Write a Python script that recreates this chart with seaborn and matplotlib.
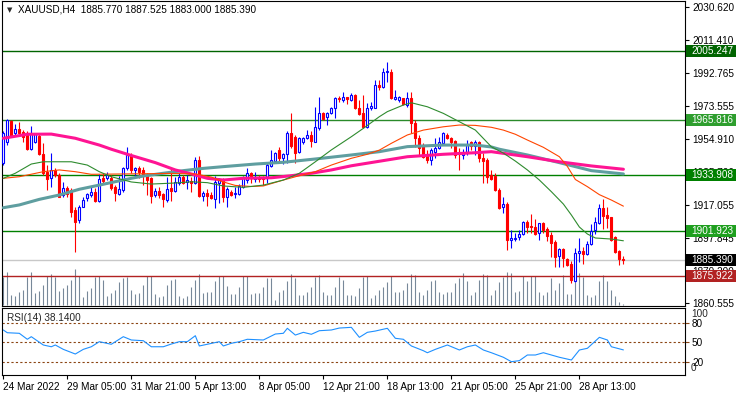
import matplotlib
matplotlib.use("Agg")
import matplotlib.pyplot as plt
import matplotlib.transforms as mtransforms
from matplotlib.patches import Rectangle
import numpy as np
import pandas as pd
import seaborn as sns

sns.set_style("white")
plt.rcParams['font.family'] = ['Liberation Sans', 'DejaVu Sans']

# ---------------- data ----------------
title_text = "XAUUSD,H4  1885.770 1887.525 1883.000 1885.390"

opens = [1941.0, 1953.2, 1965.3, 1958.4, 1960.5, 1958.8, 1958.4, 1948.9, 1953.2, 1956.5,
         1946.2, 1936.0, 1932.2, 1937.0, 1934.1, 1922.6, 1926.5, 1925.5, 1914.0, 1908.2,
         1915.9, 1920.7, 1922.6, 1924.5, 1919.3, 1932.2, 1932.2, 1932.2, 1927.0, 1923.2,
         1925.5, 1937.9, 1945.6, 1937.0, 1937.9, 1937.0, 1934.1, 1932.2, 1922.6, 1925.1,
         1923.2, 1919.7, 1926.5, 1925.1, 1929.7, 1932.8, 1930.2, 1930.8, 1929.7, 1942.7,
         1922.0, 1923.9, 1922.6, 1920.1, 1929.7, 1931.2, 1921.3, 1924.5, 1923.0, 1923.2,
         1927.4, 1931.2, 1935.1, 1931.8, 1933.1, 1932.5, 1932.5, 1939.4, 1942.1, 1948.5,
         1944.0, 1946.0, 1958.1, 1956.1, 1947.1, 1952.9, 1955.2, 1957.1, 1953.2, 1961.3,
         1969.5, 1967.6, 1969.5, 1972.4, 1978.5, 1977.2, 1978.7, 1977.2, 1980.1, 1972.8,
         1969.5, 1961.8, 1972.4, 1972.8, 1985.8, 1984.8, 1993.1, 1993.4, 1977.8, 1977.2,
         1978.2, 1974.3, 1978.2, 1963.8, 1955.2, 1951.3, 1945.6, 1942.7, 1947.5, 1949.4,
         1952.3, 1957.1, 1955.2, 1953.6, 1947.1, 1945.6, 1947.1, 1952.9, 1950.9, 1953.2,
         1943.7, 1942.7, 1934.1, 1933.7, 1925.5, 1915.5, 1917.4, 1896.7, 1897.2, 1898.3,
         1900.2, 1907.3, 1904.8, 1904.4, 1900.9, 1906.3, 1902.9, 1899.6, 1895.8, 1887.6,
         1891.4, 1885.6, 1882.9, 1873.4, 1889.5, 1890.6, 1888.7, 1894.4, 1902.5, 1906.7,
         1914.9, 1911.1, 1909.8, 1898.6, 1890.4, 1885.77]
highs = [1959.4, 1966.0, 1965.7, 1963.4, 1964.7, 1960.0, 1959.5, 1962.3, 1958.4, 1958.4,
         1952.3, 1939.8, 1946.6, 1937.9, 1935.1, 1930.2, 1927.8, 1926.5, 1915.9, 1916.9,
         1921.3, 1923.9, 1927.8, 1926.5, 1934.7, 1935.1, 1936.0, 1934.1, 1928.3, 1933.5,
         1938.5, 1950.0, 1946.6, 1938.9, 1939.3, 1938.9, 1935.1, 1933.1, 1926.5, 1927.0,
         1923.6, 1933.1, 1937.9, 1933.1, 1935.1, 1934.1, 1934.1, 1933.1, 1944.6, 1945.0,
         1925.1, 1925.9, 1924.5, 1933.5, 1932.2, 1932.2, 1927.4, 1925.5, 1927.4, 1928.9,
         1933.5, 1937.9, 1936.0, 1936.0, 1934.1, 1933.7, 1941.7, 1948.5, 1947.5, 1950.4,
         1946.6, 1959.4, 1969.5, 1957.1, 1956.1, 1956.1, 1960.0, 1959.4, 1973.3, 1979.1,
         1970.5, 1970.5, 1973.3, 1979.1, 1979.7, 1981.6, 1979.1, 1981.0, 1980.5, 1977.2,
         1980.1, 1975.3, 1976.2, 1988.7, 1988.7, 1995.4, 1998.8, 1995.0, 1982.9, 1979.7,
         1978.5, 1981.6, 1981.9, 1965.7, 1957.1, 1952.3, 1948.5, 1949.4, 1955.2, 1956.1,
         1958.9, 1958.0, 1956.1, 1954.2, 1949.4, 1949.0, 1954.2, 1953.6, 1954.2, 1953.6,
         1946.6, 1943.7, 1937.0, 1935.1, 1926.5, 1921.3, 1918.7, 1902.5, 1900.9, 1902.5,
         1907.8, 1908.2, 1911.7, 1908.6, 1906.7, 1907.3, 1904.4, 1901.5, 1896.7, 1892.0,
         1892.0, 1886.2, 1884.9, 1892.0, 1897.7, 1892.6, 1896.3, 1905.9, 1909.8, 1917.4,
         1920.1, 1915.9, 1910.1, 1899.0, 1891.0, 1887.525]
lows = [1939.8, 1951.3, 1955.9, 1957.1, 1958.2, 1953.2, 1948.2, 1948.3, 1952.3, 1945.8,
        1934.0, 1925.5, 1927.0, 1933.1, 1921.3, 1921.6, 1921.3, 1909.8, 1890.0, 1906.3,
        1915.5, 1919.3, 1921.6, 1918.8, 1918.8, 1929.7, 1931.2, 1925.5, 1919.3, 1922.6,
        1924.5, 1937.0, 1935.1, 1932.2, 1932.2, 1928.3, 1922.6, 1917.8, 1921.6, 1920.7,
        1915.5, 1918.8, 1919.3, 1924.5, 1928.3, 1928.9, 1925.9, 1924.5, 1928.9, 1921.3,
        1919.3, 1916.3, 1920.1, 1914.9, 1918.2, 1918.8, 1915.5, 1922.0, 1920.7, 1922.6,
        1926.5, 1929.7, 1929.7, 1930.2, 1930.1, 1928.3, 1929.3, 1938.9, 1940.8, 1941.7,
        1940.2, 1940.8, 1949.4, 1940.8, 1946.6, 1951.7, 1954.8, 1950.4, 1952.9, 1960.0,
        1965.7, 1962.8, 1969.0, 1966.7, 1976.2, 1976.2, 1974.7, 1976.6, 1972.0, 1968.6,
        1961.3, 1961.3, 1971.4, 1972.4, 1982.9, 1983.9, 1987.7, 1977.8, 1977.2, 1975.9,
        1974.3, 1973.3, 1958.0, 1950.4, 1945.6, 1943.7, 1940.8, 1939.8, 1943.7, 1949.0,
        1951.3, 1954.8, 1949.4, 1943.7, 1937.0, 1943.3, 1945.6, 1948.5, 1945.6, 1941.7,
        1929.3, 1929.3, 1931.2, 1924.9, 1914.6, 1912.1, 1891.0, 1892.0, 1896.3, 1896.7,
        1899.6, 1900.9, 1900.9, 1899.6, 1896.7, 1900.9, 1896.3, 1887.2, 1881.4, 1881.1,
        1881.4, 1881.8, 1871.9, 1872.8, 1884.3, 1882.9, 1888.1, 1893.9, 1900.2, 1905.9,
        1902.9, 1903.5, 1896.3, 1889.1, 1882.4, 1883.0]
closes = [1958.2, 1965.7, 1956.5, 1960.5, 1958.4, 1956.1, 1948.8, 1957.6, 1957.6, 1946.2,
          1935.1, 1931.6, 1937.0, 1934.1, 1921.6, 1926.5, 1923.2, 1913.0, 1907.3, 1915.9,
          1919.7, 1923.2, 1924.5, 1919.3, 1931.6, 1930.8, 1934.1, 1926.5, 1923.6, 1925.9,
          1937.9, 1945.6, 1937.0, 1937.9, 1936.0, 1934.1, 1931.2, 1922.0, 1925.1, 1922.6,
          1920.1, 1926.0, 1925.1, 1930.2, 1933.1, 1929.7, 1931.2, 1929.7, 1942.7, 1922.0,
          1923.9, 1922.0, 1920.7, 1930.2, 1931.2, 1921.6, 1925.9, 1922.6, 1923.6, 1927.8,
          1932.2, 1935.1, 1932.2, 1932.5, 1931.8, 1931.8, 1939.8, 1942.7, 1946.6, 1944.0,
          1946.0, 1958.1, 1950.9, 1946.6, 1955.2, 1955.2, 1957.1, 1953.6, 1961.8, 1969.5,
          1966.3, 1969.5, 1972.4, 1978.2, 1977.6, 1979.1, 1977.8, 1980.1, 1972.4, 1969.0,
          1961.8, 1972.4, 1973.9, 1985.8, 1984.8, 1993.4, 1993.8, 1978.2, 1979.1, 1979.1,
          1974.7, 1978.2, 1963.8, 1955.2, 1949.4, 1944.6, 1942.7, 1948.5, 1949.4, 1952.9,
          1958.0, 1955.2, 1952.9, 1945.6, 1946.3, 1947.5, 1951.7, 1950.9, 1953.2, 1943.7,
          1942.1, 1933.1, 1931.8, 1925.5, 1915.0, 1917.4, 1896.7, 1897.7, 1898.1, 1900.2,
          1907.3, 1904.4, 1904.0, 1900.2, 1906.3, 1902.5, 1899.0, 1895.2, 1887.2, 1891.4,
          1886.2, 1882.4, 1873.8, 1889.5, 1890.6, 1888.7, 1894.4, 1902.1, 1907.3, 1914.9,
          1910.5, 1909.2, 1896.7, 1890.0, 1885.6, 1885.39]
volumes = [28.3, 33.3, 10, 9, 13.3, 15, 28.3, 33.3, 12.3, 14.3,
           20, 29.3, 30.7, 28.3, 14, 16.7, 20, 25, 36, 29.3,
           8.3, 14.3, 16.7, 28.3, 29, 25, 9, 12.3, 15, 23.3,
           26.7, 27.7, 15, 11, 12.3, 20, 29, 29, 11, 8.3,
           9, 20, 25, 25.7, 9, 6.7, 9, 18.3, 25, 31,
           12.3, 13.3, 13.3, 24.3, 29.3, 29, 19, 11, 11, 18.3,
           29, 29, 11, 11.7, 11.7, 18.3, 27.3, 27.3, 5, 12.7,
           15, 24, 31, 27.3, 10, 10, 12.7, 18.3, 28.3, 30,
           12.7, 10, 10, 18.3, 28.3, 25, 10, 10, 9.3, 16.7,
           28.3, 29, 6.7, 10, 15, 18.3, 23.3, 29, 12.7, 12.7,
           15, 21.7, 30.7, 30, 12.7, 10, 15, 24, 25, 13.3,
           10.7, 12.7, 13.3, 21.7, 27.3, 31.7, 24, 10, 12.7, 25,
           30.7, 30, 10, 15, 23.3, 28.3, 33.3, 31.7, 13.3, 14.3,
           29, 24.3, 29, 29, 13.3, 10, 13.3, 26.7, 15, 21.7,
           30, 11, 11, 23.3, 32.3, 27.7, 10, 8.3, 10, 24.3,
           30, 24.3, 15, 9, 3.3, 1]

# moving averages (bar index, value)
ma_green_bar = [0, 3, 7, 10, 17, 21, 24, 27, 32, 37, 43, 47, 51, 55, 60, 65, 70, 74, 78, 82,
                87, 90, 94, 96, 100, 102, 106, 110, 114, 118, 122, 125, 128, 131, 134, 137,
                140, 142, 144, 146, 148, 152, 155]
ma_green_val = [1932.2, 1935.1, 1940.4, 1941.7, 1941.7, 1939.8, 1936.0, 1933.1, 1930.1, 1928.9,
                1929.5, 1930.2, 1929.7, 1927.8, 1927.0, 1928.3, 1931.2, 1935.1, 1941.7, 1948.5,
                1956.1, 1960.9, 1967.6, 1970.5, 1974.3, 1975.6, 1973.3, 1969.5, 1964.7, 1959.9,
                1950.3, 1946.7, 1942.1, 1937.0, 1931.2, 1924.5, 1917.4, 1911.1, 1904.2, 1900.2,
                1897.9, 1897.3, 1896.3]
ma_orange_bar = [0, 4, 10, 14, 18, 22, 30, 42, 48, 52, 55, 58, 62, 65, 70, 74, 78, 82, 87, 91,
                 94, 97, 101, 105, 110, 114, 118, 122, 125, 128, 131, 135, 139, 141, 143, 146,
                 149, 152, 155]
ma_orange_val = [1932.2, 1933.1, 1936.0, 1937.0, 1936.0, 1934.5, 1934.7, 1935.0, 1934.7, 1932.9,
                 1930.1, 1928.1, 1927.5, 1927.8, 1931.2, 1933.7, 1936.0, 1939.8, 1943.7, 1946.0,
                 1948.4, 1952.3, 1957.1, 1959.9, 1961.8, 1962.8, 1962.6, 1961.5, 1959.9, 1957.5,
                 1954.2, 1950.0, 1944.6, 1939.0, 1931.5, 1927.4, 1922.8, 1919.7, 1916.2]
ma_pink_bar = [0, 6, 12, 18, 24, 27, 32, 38, 43, 47, 51, 55, 60, 67, 72, 77, 82, 87, 94, 101,
               110, 118, 122, 131, 139, 147, 155]
ma_pink_val = [1955.2, 1957.5, 1957.6, 1955.2, 1951.3, 1948.9, 1945.3, 1941.2, 1937.0, 1934.7,
               1932.2, 1931.2, 1932.2, 1932.5, 1933.7, 1935.1, 1937.0, 1939.4, 1942.0, 1944.6,
               1946.0, 1946.9, 1947.5, 1944.6, 1941.7, 1939.3, 1937.4]
ma_teal_bar = [0, 4, 9, 14, 19, 24, 32, 35, 40, 45, 50, 55, 63, 70, 78, 87, 94, 101, 110, 118,
               122, 124, 131, 139, 147, 155]
ma_teal_val = [1915.3, 1916.9, 1920.1, 1922.6, 1925.9, 1928.3, 1932.2, 1933.5, 1935.1, 1936.6,
               1937.9, 1938.9, 1940.4, 1941.4, 1943.3, 1945.6, 1947.5, 1950.4, 1951.3, 1951.3,
               1950.2, 1948.9, 1945.6, 1941.2, 1936.6, 1934.7]

rsi_bar = [0, 1, 4, 6, 7, 10, 12, 13, 15, 18, 20, 22, 24, 27, 30, 32, 35, 37, 40, 42, 44, 46,
           48, 49, 54, 55, 57, 59, 61, 65, 68, 70, 71, 73, 75, 77, 79, 82, 84, 87, 89, 91, 93,
           96, 98, 100, 102, 105, 106, 108, 111, 114, 116, 118, 120, 122, 125, 127, 129, 131,
           133, 135, 137, 139, 142, 144, 146, 149, 151, 152, 155]
rsi_val = [68.8, 64.6, 63.7, 54.5, 58.5, 45.7, 43.0, 45.7, 39.0, 31.8, 39.0, 43.0, 50.8, 46.8,
           58.5, 53.4, 52.3, 43.0, 43.0, 47.2, 50.8, 50.8, 60.0, 44.2, 50.8, 44.2, 48.3, 50.8,
           54.5, 53.4, 62.6, 63.7, 71.4, 61.0, 65.2, 62.2, 67.7, 68.8, 71.8, 72.9, 57.5, 65.2,
           67.2, 71.4, 56.0, 54.5, 44.2, 36.9, 33.8, 39.0, 45.7, 38.0, 43.0, 45.7, 38.0, 33.8,
           26.8, 20.0, 21.6, 30.3, 30.3, 33.8, 30.3, 26.8, 22.6, 38.0, 40.6, 57.5, 53.4, 43.0,
           38.14]
rsi_levels = [80, 50, 20]

price_ticks = [2030.620, 2011.410, 1992.765, 1973.555, 1954.910, 1935.700, 1917.055,
               1897.845, 1879.200, 1860.555]
time_tick_bars = [0, 16, 32, 48, 64, 80, 96, 112, 128, 144]
time_labels = ['24 Mar 2022', '29 Mar 05:00', '31 Mar 21:00', '5 Apr 13:00', '8 Apr 05:00',
               '12 Apr 21:00', '18 Apr 13:00', '21 Apr 05:00', '25 Apr 21:00', '28 Apr 13:00']

level_values = [2005.247, 1965.816, 1933.908, 1901.923]
level_line_colors = ['#006400', '#2a8a2a', '#008000', '#008000']
level_box_colors = ['#006400', '#2e9e2e', '#008000', '#1f9f1f']
bid_price = 1885.390
red_level = 1875.922

# ---------------- figure ----------------
W, H = 736, 396
fig = plt.figure(figsize=(W / 100, H / 100), dpi=100)
fig.patch.set_facecolor('white')
rect_main = [2 / W, (H - 306) / H, 683 / W, 305 / H]
rect_rsi = [2 / W, (H - 375) / H, 683 / W, 66.7 / H]
XL = (-0.325, 170.4)
FS = 7.2

axv = fig.add_axes(rect_main)
ax = fig.add_axes(rect_main)
ax.patch.set_alpha(0)

df = pd.DataFrame(dict(bar=np.arange(len(opens)), open=opens, high=highs, low=lows,
                       close=closes, volume=volumes))
df['bull'] = df['close'] >= df['open']

# volume histogram
axv.vlines(df['bar'], 0, df['volume'], color='#778899', lw=0.8)
axv.set_xlim(*XL)
axv.set_ylim(-1, 304)
axv.set_axis_off()

# horizontal levels
for v, c in zip(level_values, level_line_colors):
    ax.axhline(v, color=c, lw=1.0, zorder=2)
ax.axhline(bid_price, color='#c8c8c8', lw=1.0, zorder=2)
ax.axhline(red_level, color='#b22222', lw=1.0, zorder=2)

# candles
wick_c = np.where(df['bull'], '#0000ff', '#ff0000')
face_c = np.where(df['bull'], '#ffffff', '#ff0000')
ax.vlines(df['bar'], df['low'], df['high'], colors=wick_c, lw=0.8, zorder=3)
body_bottom = np.minimum(df['open'], df['close'])
body_h = np.maximum((df['close'] - df['open']).abs(), 0.35)
ax.bar(df['bar'], body_h, bottom=body_bottom, width=0.5, color=face_c,
       edgecolor=wick_c, linewidth=0.8, zorder=4)

# moving averages
sns.lineplot(x=ma_teal_bar, y=ma_teal_val, ax=ax, color='#5f9ea0', lw=2.2, zorder=5)
sns.lineplot(x=ma_pink_bar, y=ma_pink_val, ax=ax, color='#ff1493', lw=2.2, zorder=5)
sns.lineplot(x=ma_orange_bar, y=ma_orange_val, ax=ax, color='#ff4500', lw=0.8, zorder=6)
sns.lineplot(x=ma_green_bar, y=ma_green_val, ax=ax, color='#2e8b2e', lw=0.8, zorder=6)

ax.set_xlim(*XL)
ax.set_ylim(1858.83, 2034.07)
ax.set_xticks([])
ax.set_xlabel('')
ax.set_ylabel('')
ax.yaxis.tick_right()
ax.set_yticks(price_ticks)
ax.set_yticklabels([f'{v:.3f}' for v in price_ticks])
ax.tick_params(axis='y', right=True, left=False, length=3, width=0.8, pad=2,
               labelsize=FS, colors='black', direction='out')
for s in ax.spines.values():
    s.set_color('black')
    s.set_linewidth(0.8)

# price boxes on the right scale
trans = mtransforms.blended_transform_factory(ax.transAxes, ax.transData)
boxes = list(zip(level_values, level_box_colors)) + [(bid_price, '#000000'), (red_level, '#b22222')]
for v, c in boxes:
    ax.add_patch(Rectangle((1.0015, v - 3.45), 0.0732, 6.9, transform=trans, facecolor=c,
                           edgecolor='none', clip_on=False, zorder=10))
    ax.text(1.0088, v, f'{v:.3f}', transform=trans, color='white', fontsize=FS,
            va='center', ha='left', clip_on=False, zorder=11)
ax.set_xlim(*XL)
ax.set_ylim(1858.83, 2034.07)

# title
ax.text(5 / 683, 0.9705, '\u25bc', transform=ax.transAxes, fontsize=5, va='center',
        ha='left', family=['DejaVu Sans'])
ax.text(16 / 683, 0.9705, title_text, transform=ax.transAxes, fontsize=FS,
        va='center', ha='left', color='black')

# ---------------- RSI ----------------
axr = fig.add_axes(rect_rsi)
for lvl in rsi_levels:
    axr.axhline(lvl, color='#8b4513', lw=0.8, ls=(0, (2, 2)))
sns.lineplot(x=rsi_bar, y=rsi_val, ax=axr, color='#1e90ff', lw=0.8)
axr.set_xlim(*XL)
axr.set_ylim(-0.5, 102.2)
axr.set_xlabel('')
axr.set_ylabel('')
axr.yaxis.tick_right()
axr.set_yticks(rsi_levels)
axr.set_yticklabels([str(v) for v in rsi_levels])
axr.tick_params(axis='y', right=True, left=False, length=3, width=0.8, pad=2,
                labelsize=FS, colors='black', direction='out')
axr.tick_params(axis='y', which='major', color='#8b4513', labelcolor='black')
tr = mtransforms.blended_transform_factory(axr.transAxes, axr.transData)
axr.text(1.0088, 93.4, '100', transform=tr, fontsize=FS, va='center', ha='left', clip_on=False)
axr.text(1.0088, 9.8, '0', transform=tr, fontsize=FS, va='center', ha='left', clip_on=False)
axr.set_xticks(time_tick_bars)
axr.set_xticklabels(time_labels, ha='left')
axr.tick_params(axis='x', bottom=True, length=3, width=0.8, pad=2, labelsize=FS,
                colors='black', direction='out')
axr.text(5 / 683, 0.855, 'RSI(14) 38.1400', transform=axr.transAxes, fontsize=FS,
         va='center', ha='left')
for s in axr.spines.values():
    s.set_color('black')
    s.set_linewidth(0.8)

fig.savefig('out.png', dpi=100)
